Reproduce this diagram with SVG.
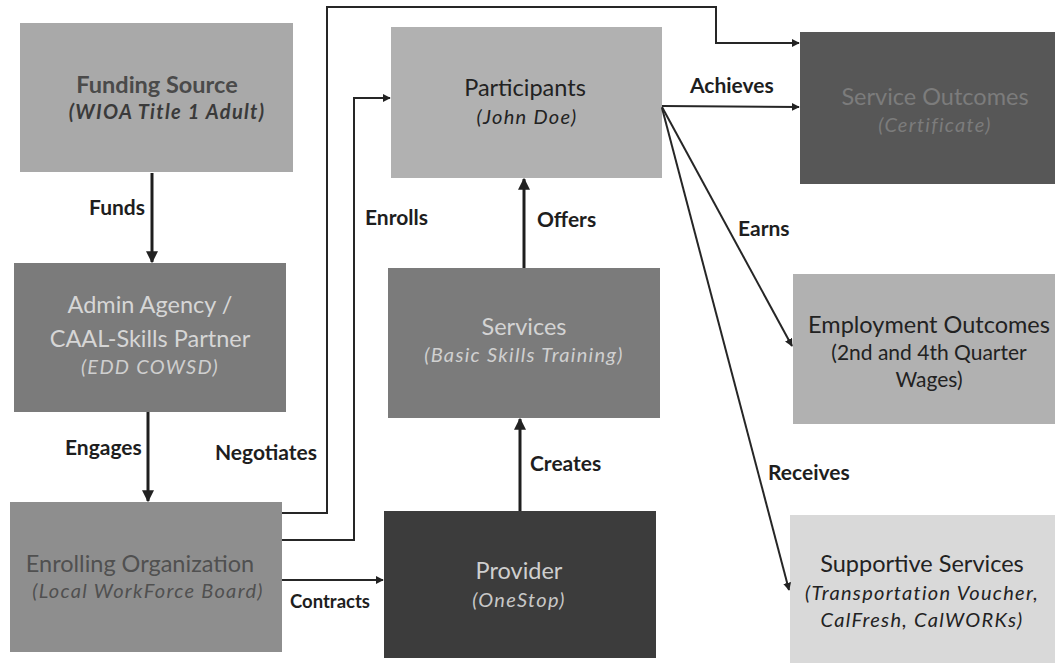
<svg xmlns="http://www.w3.org/2000/svg" width="1055" height="663" viewBox="0 0 1055 663">
<defs>
<marker id="ah" viewBox="0 0 10 10" refX="9" refY="5" markerWidth="4" markerHeight="4" orient="auto" markerUnits="strokeWidth">
<path d="M0,0 L10,5 L0,10 z" fill="#222"/>
</marker>
<style>
text{font-family:Lato,"Liberation Sans",sans-serif;text-anchor:middle}
.t{font-size:23.5px}
.t2{font-size:21px}
.s{font-size:20px;font-style:italic;letter-spacing:1.3px}
.lbl{font-size:21px;font-weight:bold;fill:#1e1e1e;text-anchor:start}
.c{fill:none;stroke:#262626;stroke-width:2}
.cv{fill:none;stroke:#1e1e1e;stroke-width:3}
</style>
</defs>
<rect width="1055" height="663" fill="#ffffff"/>

<g id="funding-source">
<rect x="20" y="23" width="273" height="149" fill="#a9a9a9"/>
<text x="157" y="93" class="t" font-weight="bold" fill="#4a4a4a">Funding Source</text>
<text x="167" y="119" class="s" font-weight="bold" fill="#3a3a3a">(WIOA Title 1 Adult)</text>
</g>

<g id="admin-agency">
<rect x="14" y="263" width="272" height="149" fill="#7b7b7b"/>
<text x="150" y="313" class="t" fill="#d6d6d6">Admin Agency /</text>
<text x="150" y="347" class="t" fill="#d6d6d6">CAAL-Skills Partner</text>
<text x="150" y="374" class="s" fill="#cfcfcf">(EDD COWSD)</text>
</g>

<g id="enrolling-organization">
<rect x="10" y="502" width="272" height="150" fill="#8e8e8e"/>
<text x="140" y="572" class="t" fill="#505050">Enrolling Organization</text>
<text x="148" y="598" class="s" fill="#505050">(Local WorkForce Board)</text>
</g>

<g id="participants">
<rect x="391" y="27" width="271" height="151" fill="#b1b1b1"/>
<text x="525" y="96" class="t" fill="#222">Participants</text>
<text x="527" y="124" class="s" fill="#222">(John Doe)</text>
</g>

<g id="services">
<rect x="388" y="268" width="272" height="150" fill="#7b7b7b"/>
<text x="524" y="335" class="t" fill="#d4d4d4">Services</text>
<text x="524" y="362" class="s" fill="#d0d0d0">(Basic Skills Training)</text>
</g>

<g id="provider">
<rect x="384" y="511" width="272" height="147" fill="#3c3c3c"/>
<text x="519" y="579" class="t" fill="#cfcfcf">Provider</text>
<text x="519" y="607" class="s" fill="#c8c8c8">(OneStop)</text>
</g>

<g id="service-outcomes">
<rect x="800" y="32" width="255" height="152" fill="#575757"/>
<text x="935" y="105" class="t" fill="#7c7c7c">Service Outcomes</text>
<text x="935" y="132" class="s" fill="#7c7c7c">(Certificate)</text>
</g>

<g id="employment-outcomes">
<rect x="793" y="274" width="262" height="150" fill="#b1b1b1"/>
<text x="929" y="333" class="t" fill="#222">Employment Outcomes</text>
<text x="929" y="360" class="t2" fill="#222">(2nd and 4th Quarter</text>
<text x="929" y="387" class="t2" fill="#222">Wages)</text>
</g>

<g id="supportive-services">
<rect x="790" y="515" width="265" height="148" fill="#d9d9d9"/>
<text x="922" y="572" class="t" fill="#222">Supportive Services</text>
<text x="922" y="600" class="s" fill="#222">(Transportation Voucher,</text>
<text x="922" y="627" class="s" fill="#222">CalFresh, CalWORKs)</text>
</g>

<g id="connectors">
<path class="cv" d="M152,173 V262" marker-end="url(#ah)"/>
<path class="cv" d="M148,412 V501" marker-end="url(#ah)"/>
<path class="c" d="M282,513 H327 V7 H716 V43 H799" marker-end="url(#ah)"/>
<path class="c" d="M282,540 H354 V98 H390" marker-end="url(#ah)"/>
<path class="c" d="M282,580 H383" marker-end="url(#ah)"/>
<path class="cv" d="M520,511 V419" marker-end="url(#ah)"/>
<path class="cv" d="M524,268 V179" marker-end="url(#ah)"/>
<path class="c" d="M662,106 L799,107" marker-end="url(#ah)"/>
<path class="c" d="M662,107 L792,346" marker-end="url(#ah)"/>
<path class="c" d="M662,108 L789,590" marker-end="url(#ah)"/>
<text x="89" y="215" class="lbl">Funds</text>
<text x="65" y="455" class="lbl">Engages</text>
<text x="215" y="460" class="lbl">Negotiates</text>
<text x="365" y="225" class="lbl">Enrolls</text>
<text x="290" y="608" class="lbl" font-size="18.5" style="font-size:18.5px">Contracts</text>
<text x="530" y="471" class="lbl">Creates</text>
<text x="537" y="227" class="lbl">Offers</text>
<text x="690" y="93" class="lbl">Achieves</text>
<text x="738" y="236" class="lbl">Earns</text>
<text x="768" y="480" class="lbl">Receives</text>
</g>
</svg>
